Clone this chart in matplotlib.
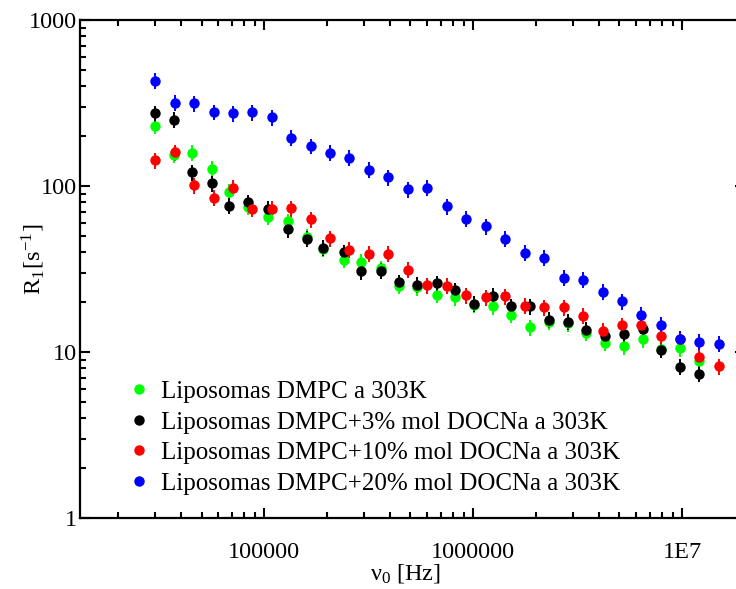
import numpy as np
import matplotlib
matplotlib.use("Agg")
import matplotlib.pyplot as plt
from matplotlib.lines import Line2D
from matplotlib.ticker import FixedLocator, FixedFormatter, LogLocator, NullFormatter

plt.rcParams['font.family'] = ['Liberation Serif', 'DejaVu Serif']
plt.rcParams['mathtext.fontset'] = 'stix'

# Larmor frequencies (Hz)
freq_a = [30000, 37380, 46080, 57270, 70610, 87600, 108800, 134600, 166700, 206300,
          255100, 317000, 392000, 485500, 602500, 745900, 925700, 1150000, 1423000, 1762000,
          2180000, 2707000, 3349000, 4160000, 5147000, 6366000, 7882000, 9750000, 12060000, 14980000]
freq_b = [30000, 37100, 45100, 56020, 68000, 83830, 104200, 130200, 160600, 190300,
          239900, 289200, 360500, 439600, 539700, 670200, 817300, 1004000, 1238000, 1520000,
          1868000, 2295000, 2829000, 3473000, 4267000, 5244000, 6465000, 7934000, 9750000, 11980000]

# Relaxation rates R1 (s^-1)
r1_dmpc = [230, 154, 158, 127, 92.4, 75.0, 65.3, 61.3, 49.5, 41.7,
           35.8, 34.9, 32.0, 25.1, 24.5, 22.1, 21.4, 19.3, 18.8, 16.7,
           14.1, 15.2, 14.9, 13.0, 11.4, 10.8, 11.9, 10.4, 10.5, 8.8]
r1_doc3 = [274, 250, 121, 104, 76.1, 79.8, 72.7, 54.9, 48.2, 42.5,
           39.9, 30.6, 30.8, 26.3, 25.4, 26.0, 23.6, 19.5, 21.8, 18.8,
           18.9, 15.6, 15.2, 13.6, 12.4, 12.8, 13.7, 10.3, 8.15, 7.4]
r1_doc10 = [143, 160, 101, 85, 97.7, 73, 72.7, 73.4, 63.0, 48.4,
            41.3, 39.1, 39.1, 31.2, 25.2, 25.1, 22.0, 21.4, 21.7, 19.0,
            18.6, 18.6, 16.5, 13.4, 14.5, 14.5, 12.5, 12.0, 9.3, 8.2]
r1_doc20 = [431, 318, 315, 279, 274, 278, 260, 195, 174, 159,
            147.5, 125, 113, 95.5, 97.7, 75.4, 63.5, 57.2, 48.2, 39.5,
            37.0, 28.0, 27.3, 23.1, 20.2, 16.8, 14.6, 12.0, 11.5, 11.2]
rel_err = 0.11

labels = ["Liposomas DMPC a 303K",
          "Liposomas DMPC+3% mol DOCNa a 303K",
          "Liposomas DMPC+10% mol DOCNa a 303K",
          "Liposomas DMPC+20% mol DOCNa a 303K"]
colors = ["#00ff00", "#000000", "#ff0000", "#0000ff"]
series = [(freq_b, r1_dmpc), (freq_b, r1_doc3), (freq_a, r1_doc10), (freq_a, r1_doc20)]

fig = plt.figure(figsize=(7.36, 5.89), dpi=100)
ax = fig.add_axes([80 / 736, 71 / 589, 665 / 736, 498 / 589])
ax.set_xscale('log')
ax.set_yscale('log')

for (f, r), c in zip(series, colors):
    r = np.asarray(r)
    ax.errorbar(f, r, yerr=rel_err * r, fmt='o', color=c, ms=7.5, mew=0,
                elinewidth=1.4, capsize=4, capthick=1.4)

ax.set_xlim(13100, 2.0e7)
ax.set_ylim(1, 1000)

ax.xaxis.set_major_locator(FixedLocator([1e5, 1e6, 1e7]))
ax.xaxis.set_major_formatter(FixedFormatter(["100000", "1000000", "1E7"]))
ax.xaxis.set_minor_locator(LogLocator(base=10, subs=np.arange(2, 10)))
ax.xaxis.set_minor_formatter(NullFormatter())
ax.yaxis.set_major_locator(FixedLocator([1, 10, 100, 1000]))
ax.yaxis.set_major_formatter(FixedFormatter(["1", "10", "100", "1000"]))
ax.yaxis.set_minor_locator(LogLocator(base=10, subs=np.arange(2, 10)))
ax.yaxis.set_minor_formatter(NullFormatter())

ax.tick_params(which='both', direction='in', top=True, right=True, width=1.5)
ax.tick_params(which='major', length=7, labelsize=17.5)
ax.tick_params(which='minor', length=4)
ax.tick_params(axis='x', which='major', pad=17)
ax.tick_params(axis='y', which='major', pad=2)
for s in ax.spines.values():
    s.set_linewidth(1.6)

ax.set_xlabel(r'$\mathregular{\nu_0}$ [Hz]', fontsize=17.5)
ax.xaxis.set_label_coords(0.49, -0.088)
ax.set_ylabel(r'R$_\mathregular{1}$[s$^\mathregular{-1}$]', fontsize=17.5)
ax.yaxis.set_label_coords(-0.05, 0.52)

handles = [Line2D([], [], marker='o', ls='none', color=c, ms=7.5, mew=0) for c in colors]
ax.legend(handles, labels, loc='lower left', bbox_to_anchor=(0.058, 0.027),
          frameon=False, fontsize=18, handletextpad=0.5, labelspacing=0.32,
          handlelength=0.8, borderaxespad=0)

fig.savefig('out.png', dpi=100)
